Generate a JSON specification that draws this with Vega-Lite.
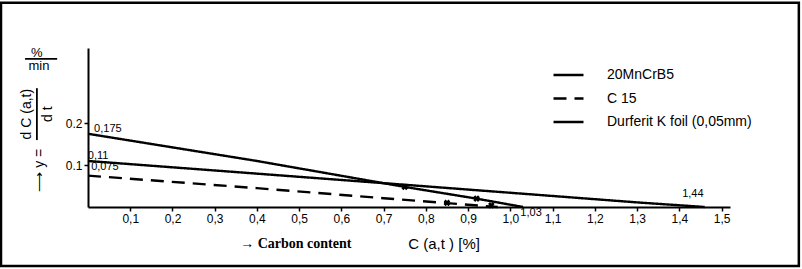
{
  "$schema": "https://vega.github.io/schema/vega-lite/v6.json",
  "width": 642,
  "height": 159,
  "autosize": "none",
  "padding": {"left": 88, "top": 48, "right": 72, "bottom": 62},
  "background": "white",
  "config": {
    "view": {"stroke": null},
    "axis": {"grid": false, "domainColor": "black", "tickColor": "black", "labelColor": "black", "labelFont": "Liberation Sans", "labelFontSize": 12, "domainWidth": 2, "tickWidth": 1.5, "tickSize": 4}
  },
  "datasets": {
    "curves": [
      {"series": "20MnCrB5", "c": 0, "rate": 0.175},
      {"series": "20MnCrB5", "c": 0.4, "rate": 0.11},
      {"series": "20MnCrB5", "c": 0.75, "rate": 0.048},
      {"series": "20MnCrB5", "c": 0.92, "rate": 0.02},
      {"series": "20MnCrB5", "c": 1.03, "rate": 0},
      {"series": "C 15", "c": 0, "rate": 0.075},
      {"series": "C 15", "c": 0.4, "rate": 0.045},
      {"series": "C 15", "c": 0.7, "rate": 0.021},
      {"series": "C 15", "c": 0.97, "rate": 0},
      {"series": "Durferit K foil (0,05mm)", "c": 0, "rate": 0.11},
      {"series": "Durferit K foil (0,05mm)", "c": 0.7, "rate": 0.057},
      {"series": "Durferit K foil (0,05mm)", "c": 1.3, "rate": 0.011},
      {"series": "Durferit K foil (0,05mm)", "c": 1.46, "rate": 0}
    ],
    "markers": [
      {"series": "20MnCrB5", "c": 0.75, "rate": 0.048},
      {"series": "20MnCrB5", "c": 0.92, "rate": 0.02},
      {"series": "C 15", "c": 0.85, "rate": 0.01},
      {"series": "C 15", "c": 0.955, "rate": 0.004}
    ],
    "values": [
      {"label": "0,175", "c": 0.047, "rate": 0.186},
      {"label": "0,11", "c": 0.024, "rate": 0.122},
      {"label": "0,075", "c": 0.04, "rate": 0.096},
      {"label": "1,03", "c": 1.049, "rate": -0.014},
      {"label": "1,44", "c": 1.432, "rate": 0.031}
    ],
    "frame": [{"x1": -0.206, "x2": 1.683, "y1": -0.141, "y2": 0.488}]
  },
  "layer": [
    {
      "data": {"name": "curves"},
      "mark": {"type": "line", "color": "black", "strokeWidth": 2.4},
      "encoding": {
        "x": {"field": "c", "type": "quantitative", "scale": {"domain": [0, 1.52], "nice": false, "zero": false},
              "axis": {"title": null, "values": [0.1,0.2,0.3,0.4,0.5,0.6,0.7,0.8,0.9,1.0,1.1,1.2,1.3,1.4,1.5], "labelExpr": "replace(format(datum.value, '.1f'), '.', ',')", "labelPadding": 2}},
        "y": {"field": "rate", "type": "quantitative", "scale": {"domain": [0, 0.38], "nice": false, "zero": false},
              "axis": {"title": null, "values": [0.1, 0.2], "format": ".1f", "labelPadding": 2}},
        "strokeDash": {"field": "series", "type": "nominal",
          "scale": {"domain": ["20MnCrB5", "C 15", "Durferit K foil (0,05mm)"], "range": [[1, 0], [13, 8], [1, 0]]},
          "legend": {"title": null, "orient": "none", "legendX": 464, "legendY": 20, "symbolType": "stroke", "symbolSize": 900, "symbolStrokeColor": "black", "symbolStrokeWidth": 2.5, "labelFont": "Liberation Sans", "labelFontSize": 14, "labelColor": "black", "labelOffset": 22, "clipHeight": 14, "rowPadding": 9.5}
        },
        "detail": {"field": "series"}
      }
    },
    {
      "data": {"name": "frame"},
      "mark": {"type": "rect", "fill": null, "stroke": "black", "strokeWidth": 2.5},
      "encoding": {
        "x": {"field": "x1", "type": "quantitative", "scale": {"domain": [0, 1.52], "nice": false, "zero": false}},
        "x2": {"field": "x2"},
        "y": {"field": "y1", "type": "quantitative", "scale": {"domain": [0, 0.38], "nice": false, "zero": false}},
        "y2": {"field": "y2"}
      }
    },
    {
      "data": {"name": "markers"},
      "mark": {"type": "point", "shape": "cross", "angle": 45, "filled": true, "color": "black", "size": 45, "opacity": 1},
      "encoding": {
        "x": {"field": "c", "type": "quantitative", "scale": {"domain": [0, 1.52], "nice": false, "zero": false}},
        "y": {"field": "rate", "type": "quantitative", "scale": {"domain": [0, 0.38], "nice": false, "zero": false}}
      }
    },
    {
      "data": {"name": "values"},
      "mark": {"type": "text", "font": "Liberation Sans", "fontSize": 11, "color": "black", "align": "center", "baseline": "middle"},
      "encoding": {
        "x": {"field": "c", "type": "quantitative", "scale": {"domain": [0, 1.52], "nice": false, "zero": false}},
        "y": {"field": "rate", "type": "quantitative", "scale": {"domain": [0, 0.38], "nice": false, "zero": false}},
        "text": {"field": "label"}
      }
    },
    {
      "data": {"values": [{"t": "%", "c": -0.121, "rate": 0.368}, {"t": "min", "c": -0.116, "rate": 0.336}]},
      "mark": {"type": "text", "font": "Liberation Sans", "fontSize": 13, "color": "black", "align": "center", "baseline": "middle"},
      "encoding": {
        "x": {"field": "c", "type": "quantitative", "scale": {"domain": [0, 1.52], "nice": false, "zero": false}},
        "y": {"field": "rate", "type": "quantitative", "scale": {"domain": [0, 0.38], "nice": false, "zero": false}},
        "text": {"field": "t"}
      }
    },
    {
      "data": {"values": [{"t": "d C (a,t)", "c": -0.144, "rate": 0.222}, {"t": "d t", "c": -0.095, "rate": 0.222}, {"t": "⟶  y =", "c": -0.114, "rate": 0.088}]},
      "mark": {"type": "text", "font": "Liberation Sans", "fontSize": 14, "color": "black", "align": "center", "baseline": "middle", "angle": 270},
      "encoding": {
        "x": {"field": "c", "type": "quantitative", "scale": {"domain": [0, 1.52], "nice": false, "zero": false}},
        "y": {"field": "rate", "type": "quantitative", "scale": {"domain": [0, 0.38], "nice": false, "zero": false}},
        "text": {"field": "t"}
      }
    },
    {
      "data": {"values": [{"c1": -0.149, "c2": -0.073, "r1": 0.354, "r2": 0.354}, {"c1": -0.121, "c2": -0.121, "r1": 0.16, "r2": 0.284}]},
      "mark": {"type": "rule", "color": "black", "strokeWidth": 1.8},
      "encoding": {
        "x": {"field": "c1", "type": "quantitative", "scale": {"domain": [0, 1.52], "nice": false, "zero": false}},
        "x2": {"field": "c2"},
        "y": {"field": "r1", "type": "quantitative", "scale": {"domain": [0, 0.38], "nice": false, "zero": false}},
        "y2": {"field": "r2"}
      }
    },
    {
      "data": {"values": [{"t": "→ Carbon content", "c": 0.492, "rate": -0.088}]},
      "mark": {"type": "text", "font": "Liberation Serif", "fontSize": 14, "fontWeight": "bold", "color": "black", "align": "center", "baseline": "middle"},
      "encoding": {
        "x": {"field": "c", "type": "quantitative", "scale": {"domain": [0, 1.52], "nice": false, "zero": false}},
        "y": {"field": "rate", "type": "quantitative", "scale": {"domain": [0, 0.38], "nice": false, "zero": false}},
        "text": {"field": "t"}
      }
    },
    {
      "data": {"values": [{"t": "C (a,t )  [%]", "c": 0.843, "rate": -0.088}]},
      "mark": {"type": "text", "font": "Liberation Sans", "fontSize": 15, "color": "black", "align": "center", "baseline": "middle"},
      "encoding": {
        "x": {"field": "c", "type": "quantitative", "scale": {"domain": [0, 1.52], "nice": false, "zero": false}},
        "y": {"field": "rate", "type": "quantitative", "scale": {"domain": [0, 0.38], "nice": false, "zero": false}},
        "text": {"field": "t"}
      }
    }
  ]
}
